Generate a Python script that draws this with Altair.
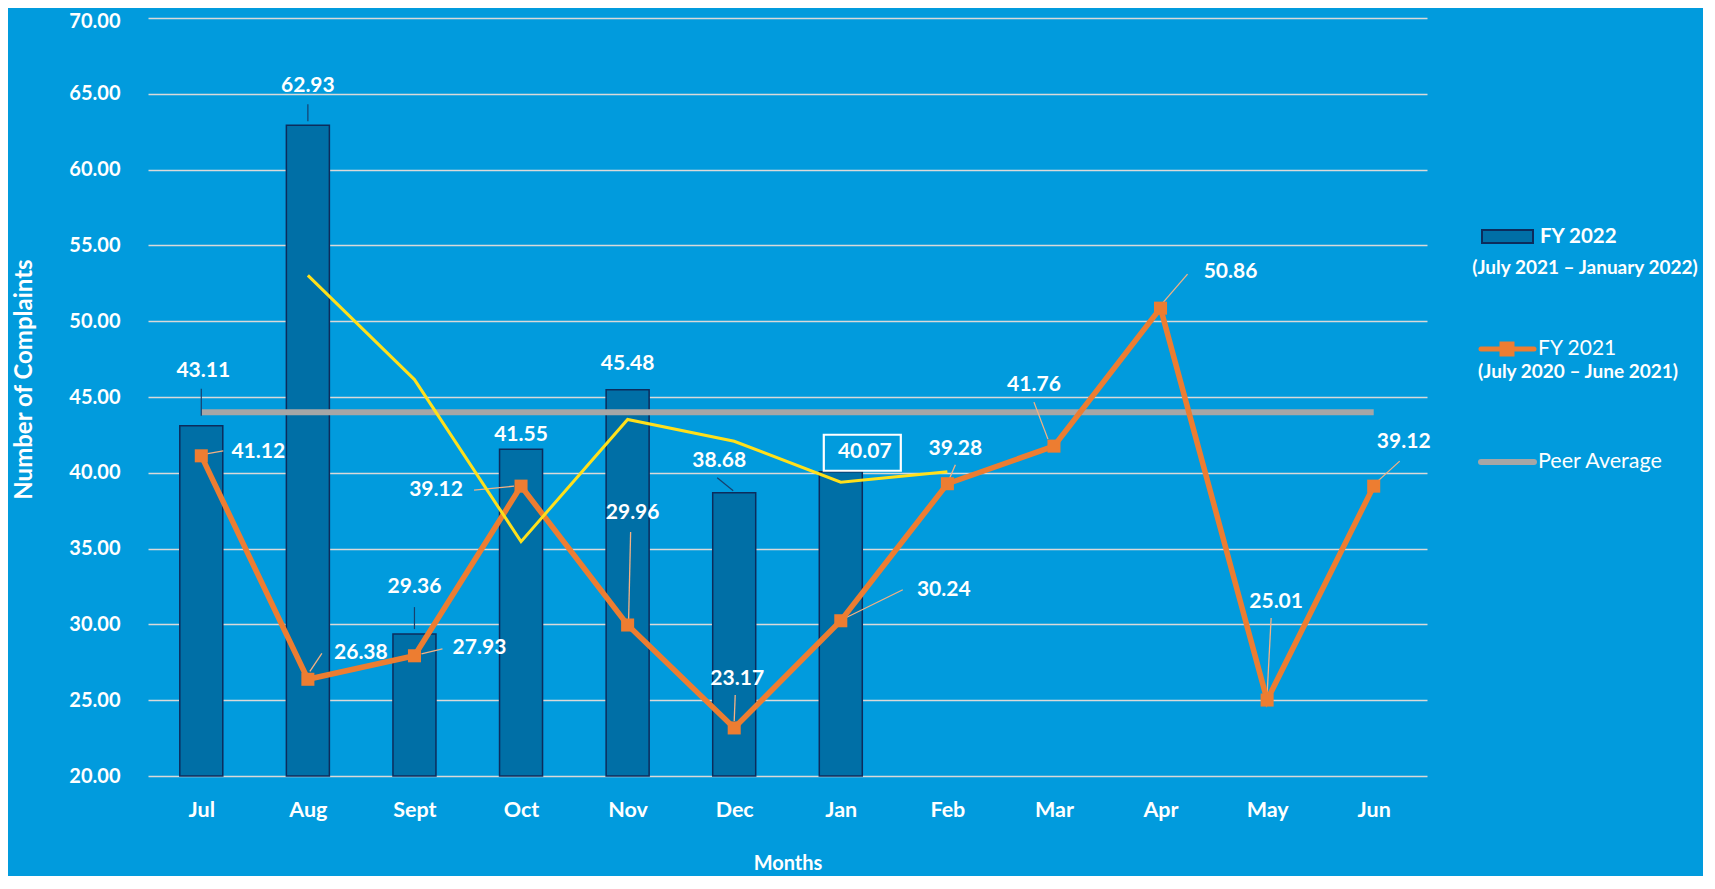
import json
import altair as alt
import pandas as pd

# ---------------- data ----------------
months = ["Jul", "Aug", "Sept", "Oct", "Nov", "Dec", "Jan", "Feb", "Mar", "Apr", "May", "Jun"]
fy2022 = [43.11, 62.93, 29.36, 41.55, 45.48, 38.68, 40.07]
fy2021 = [41.12, 26.38, 27.93, 39.12, 29.96, 23.17, 30.24, 39.28, 41.76, 50.86, 25.01, 39.12]
trend_months = ["Aug", "Sept", "Oct", "Nov", "Dec", "Jan", "Feb"]
trend_vals = [53.02, 46.15, 35.46, 43.52, 42.08, 39.38, 40.07]
peer_avg = [44.0] * 12

# ---------------- label placement (pixel offsets from each point) ----------------
bar_lbl_dx = [2, 0, 0, 0, 0, -15, 24]
bar_lbl_dy = [-55, -39, -47, -14, -26, -32, -20]
bar_lead = [(0, -10, 0, -37), (0, -4, 0, -21), (0, -5, 0, -27), None, None, (-1, -2, -17, -15), None]
l21_dx = [57, 53, 65, -85, 5, 3, 103, 8, -20, 70, 9, 30]
l21_dy = [-4, -26, -8, 4, -112, -49, -31, -35, -61, -36, -98, -44]
l21_lead = [(5, -2, 22, -5), (2, -8, 14, -26), (7, -2, 28, -7), (-47, 4, -7, 0),
            (3, -93, 1, -6), (1, -33, 0, -7), (5, -3, 62, -31), (2, -5, 8, -19),
            (-6, -7, -20, -44), (2, -5, 27, -34), (4, -82, 0, -6), (3, -4, 26, -25)]
jan_box = (-17, -37, 60, -1)

W, H = 1279, 758
XPX = W / 12.0
YMIN, YMAX = 20, 70
YPX = H / (YMAX - YMIN)

BG = "#019BDD"
BAR_FILL = "#006FA6"
BAR_STROKE = "#0C2C5C"
ORANGE = "#ED7D31"
YELLOW = "#FFE01B"
GRAY = "#A6A6A6"
FONT = "Lato"

idx = {m: i for i, m in enumerate(months)}

bars_df = pd.DataFrame({"i": list(range(len(fy2022))), "v": fy2022,
                        "dx": bar_lbl_dx, "dy": bar_lbl_dy})
bars_df["lx"] = bars_df["i"] + bars_df["dx"] / XPX
bars_df["ly"] = bars_df["v"] - bars_df["dy"] / YPX
bars_df["lab"] = [f"{v:.2f}" for v in fy2022]

l21_df = pd.DataFrame({"i": list(range(12)), "v": fy2021, "dx": l21_dx, "dy": l21_dy})
l21_df["lx"] = l21_df["i"] + l21_df["dx"] / XPX
l21_df["ly"] = l21_df["v"] - l21_df["dy"] / YPX
l21_df["lab"] = [f"{v:.2f}" for v in fy2021]

trend_df = pd.DataFrame({"i": [idx[m] for m in trend_months], "v": trend_vals})
peer_df = pd.DataFrame({"i": list(range(12)), "v": peer_avg})


def leads(values, specs):
    rows = []
    for i, (v, s) in enumerate(zip(values, specs)):
        if s is None:
            continue
        x1, y1, x2, y2 = s
        rows.append({"x1": i + x1 / XPX, "y1": v - y1 / YPX, "x2": i + x2 / XPX, "y2": v - y2 / YPX})
    return pd.DataFrame(rows)


bar_lead_df = leads(fy2022, bar_lead)
l21_lead_df = leads(fy2021, l21_lead)
jan_i = 6
box_df = pd.DataFrame([{"x1": jan_i + jan_box[0] / XPX, "x2": jan_i + jan_box[2] / XPX,
                        "y1": fy2022[jan_i] - jan_box[1] / YPX, "y2": fy2022[jan_i] - jan_box[3] / YPX}])

label_expr = json.dumps(months) + "[datum.value]"
xscale = alt.Scale(domain=[-0.5, 11.5], nice=False, zero=False, padding=0)
yscale = alt.Scale(domain=[YMIN, YMAX], nice=False, zero=False, padding=0)

x_axis = alt.Axis(values=list(range(12)), labelExpr=label_expr, grid=False, ticks=False,
                  domain=False, labelPadding=23, labelFont=FONT, labelFontSize=21.5,
                  labelFontWeight="bold", labelColor="white", labelFlush=False,
                  labelOverlap=False, title="Months", titleFont=FONT, titleFontSize=20,
                  titleFontWeight="bold", titleColor="white", titleY=87,
                  titleBaseline="middle")
y_axis = alt.Axis(values=list(range(20, 71, 5)), format=".2f", ticks=False, domain=False,
                  grid=True, gridColor="#D9D9D9", gridWidth=1.5, labelPadding=28,
                  labelFont=FONT, labelFontSize=20, labelFontWeight="bold",
                  labelColor="white", labelOffset={"expr": "datum.value == 70 ? 3 : 0"},
                  title="Number of Complaints", titleFont=FONT,
                  titleFontSize=24, titleFontWeight="bold", titleColor="white",
                  titleX=-124, titleY=361, titleAngle=-90, titleAlign="center",
                  titleBaseline="middle")

bars = alt.Chart(bars_df).mark_bar(size=43, fill=BAR_FILL, stroke=BAR_STROKE, strokeWidth=1.5).encode(
    x=alt.X("i:Q", scale=xscale, axis=x_axis),
    y=alt.Y("v:Q", scale=yscale, axis=y_axis),
    y2=alt.datum(YMIN),
)

peer = alt.Chart(peer_df).mark_line(color=GRAY, strokeWidth=6).encode(
    x=alt.X("i:Q", scale=xscale), y=alt.Y("v:Q", scale=yscale))

bar_leads = alt.Chart(bar_lead_df).mark_rule(color="#17406E", strokeWidth=1.2).encode(
    x="x1:Q", y="y1:Q", x2="x2:Q", y2="y2:Q")
l21_leads = alt.Chart(l21_lead_df).mark_rule(color="#F4B183", strokeWidth=1.3).encode(
    x="x1:Q", y="y1:Q", x2="x2:Q", y2="y2:Q")

o_line = alt.Chart(l21_df).mark_line(color=ORANGE, strokeWidth=5.5).encode(
    x=alt.X("i:Q", scale=xscale), y=alt.Y("v:Q", scale=yscale))
o_pts = alt.Chart(l21_df).mark_point(shape="square", filled=True, color=ORANGE, size=170, opacity=1).encode(
    x=alt.X("i:Q", scale=xscale), y=alt.Y("v:Q", scale=yscale))

y_line = alt.Chart(trend_df).mark_line(color=YELLOW, strokeWidth=3).encode(
    x=alt.X("i:Q", scale=xscale), y=alt.Y("v:Q", scale=yscale))

txt = dict(font=FONT, fontWeight="bold", fontSize=21, color="white", baseline="middle", align="center")
bar_lbls = alt.Chart(bars_df).mark_text(**txt).encode(x="lx:Q", y="ly:Q", text="lab:N")
l21_lbls = alt.Chart(l21_df).mark_text(**txt).encode(x="lx:Q", y="ly:Q", text="lab:N")
box = alt.Chart(box_df).mark_rect(fill=None, stroke="white", strokeWidth=2.2).encode(
    x="x1:Q", x2="x2:Q", y="y1:Q", y2="y2:Q")

# ---------------- manual legend ----------------
one = pd.DataFrame({"k": [0]})
leg = [
    alt.Chart(one).mark_rect(fill=BAR_FILL, stroke=BAR_STROKE, strokeWidth=2).encode(
        x=alt.value(1334), x2=alt.value(1385), y=alt.value(212), y2=alt.value(225)),
    alt.Chart(one).mark_text(font=FONT, fontWeight="bold", fontSize=20.5, color="white",
                             align="left", baseline="middle").encode(
        x=alt.value(1392), y=alt.value(219), text=alt.value("FY 2022")),
    alt.Chart(one).mark_text(font=FONT, fontWeight="bold", fontSize=19, color="white",
                             align="center", baseline="middle").encode(
        x=alt.value(1437), y=alt.value(250), text=alt.value("(July 2021 \u2013 January 2022)")),
    alt.Chart(one).mark_rule(color=ORANGE, strokeWidth=5, strokeCap="round").encode(
        x=alt.value(1333), x2=alt.value(1386), y=alt.value(331)),
    alt.Chart(one).mark_point(shape="square", filled=True, color=ORANGE, size=225, opacity=1).encode(
        x=alt.value(1359), y=alt.value(331)),
    alt.Chart(one).mark_text(font=FONT, fontSize=21, color="white",
                             align="left", baseline="middle").encode(
        x=alt.value(1390), y=alt.value(331), text=alt.value("FY 2021")),
    alt.Chart(one).mark_text(font=FONT, fontWeight="bold", fontSize=19, color="white",
                             align="center", baseline="middle").encode(
        x=alt.value(1430), y=alt.value(354), text=alt.value("(July 2020 \u2013 June 2021)")),
    alt.Chart(one).mark_rule(color=GRAY, strokeWidth=6, strokeCap="round").encode(
        x=alt.value(1333), x2=alt.value(1386), y=alt.value(444)),
    alt.Chart(one).mark_text(font=FONT, fontSize=21.5, color="white",
                             align="left", baseline="middle").encode(
        x=alt.value(1390), y=alt.value(444), text=alt.value("Peer Average")),
]

chart = alt.layer(
    bars, peer, bar_leads, l21_leads, o_line, o_pts, y_line, bar_lbls, l21_lbls, box, *leg
).properties(
    width=W, height=H,
    autosize=alt.AutoSizeParams(type="none"),
    padding={"left": 140, "top": 10, "right": 276, "bottom": 100},
    background=BG,
).configure_view(stroke=None)

chart.save("out.html", embed_options={"renderer": "svg", "actions": False})
